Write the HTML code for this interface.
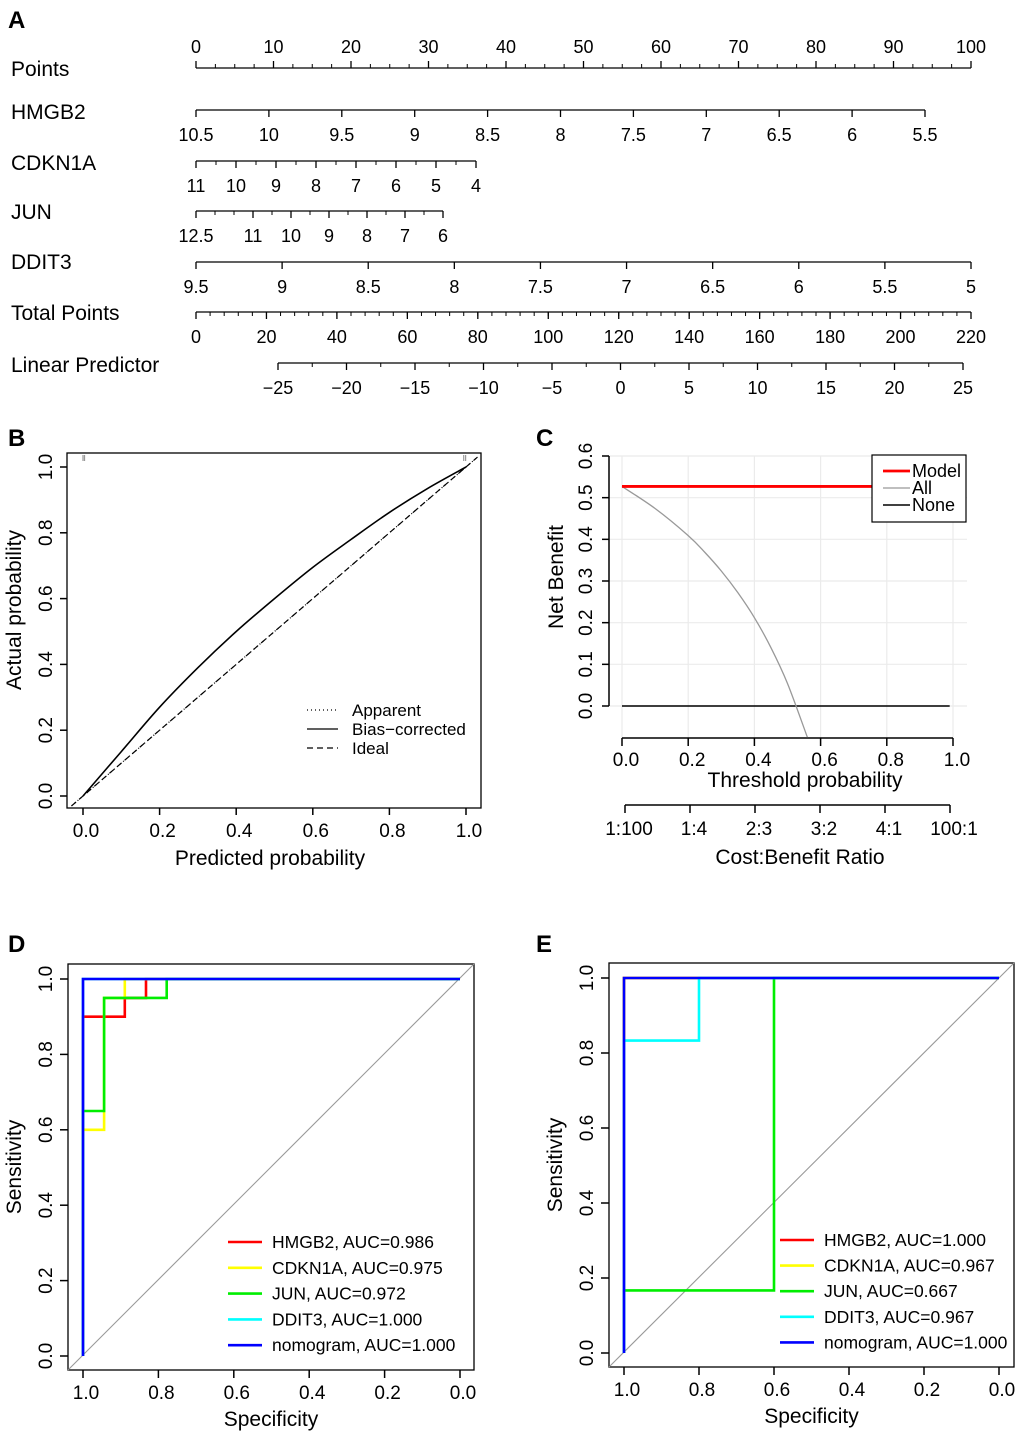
<!DOCTYPE html>
<html><head><meta charset="utf-8"><style>
html,body{margin:0;padding:0;background:#fff;}
svg{display:block;font-family:"Liberation Sans",Arial,sans-serif;}
</style></head><body>
<svg id="fig" width="1020" height="1435" viewBox="0 0 1020 1435"></svg>
<script>
// ---------- DATA ----------
const pointsTicks=[0,10,20,30,40,50,60,70,80,90,100];
const hmgb2Ticks=[10.5,10,9.5,9,8.5,8,7.5,7,6.5,6,5.5];
const cdkn1aTicks=[11,10,9,8,7,6,5,4];
const junTicks=[12.5,11,10,9,8,7,6];
const ddit3Ticks=[9.5,9,8.5,8,7.5,7,6.5,6,5.5,5];
const totalTicks=[0,20,40,60,80,100,120,140,160,180,200,220];
const lpTicks=[-25,-20,-15,-10,-5,0,5,10,15,20,25];
const calPred=[0.0,0.1,0.2,0.3,0.4,0.5,0.6,0.7,0.8,0.9,1.0];
const calBias=[0.0,0.135,0.27,0.39,0.5,0.6,0.695,0.78,0.862,0.935,1.0];
const idealX=[-0.03,1.03];
const dcaT=[0,0.1,0.2,0.25,0.3,0.35,0.4,0.45,0.5,0.56];
const dcaAll=[0.527,0.474,0.409,0.369,0.324,0.272,0.212,0.140,0.054,-0.075];
const modelNB=0.527;
const cbLabels=["1:100","1:4","2:3","3:2","4:1","100:1"];
const dNames=["HMGB2, AUC=0.986","CDKN1A, AUC=0.975","JUN, AUC=0.972","DDIT3, AUC=1.000","nomogram, AUC=1.000"];
const dSpec=[[1,1,0.889,0.889,0.833,0.833,0],[1,1,0.944,0.944,0.889,0.889,0],[1,1,0.944,0.944,0.778,0.778,0],[1,1,0],[1,1,0]];
const dSens=[[0,0.9,0.9,0.95,0.95,1,1],[0,0.6,0.6,0.95,0.95,1,1],[0,0.65,0.65,0.95,0.95,1,1],[0,1,1],[0,1,1]];
const eNames=["HMGB2, AUC=1.000","CDKN1A, AUC=0.967","JUN, AUC=0.667","DDIT3, AUC=0.967","nomogram, AUC=1.000"];
const eSpec=[[1,1,0],[1,1,0],[1,1,0.6,0.6,0],[1,1,0.8,0.8,0],[1,1,0]];
const eSens=[[0,1,1],[0,1,1],[0,0.167,0.167,1,1],[0,0.833,0.833,1,1],[0,1,1]];
const rocColors=["#ff0000","#ffff00","#00ee00","#00ffff","#0000ff"];
const rocTicks=[0,0.2,0.4,0.6,0.8,1.0];

// ---------- HELPERS ----------
const NS='http://www.w3.org/2000/svg';
const svg=document.getElementById('fig');
function mk(tag,attrs,name,parent){
  const el=document.createElementNS(NS,tag);
  for(const k in attrs) el.setAttribute(k,attrs[k]);
  
  
  (parent||svg).appendChild(el);
  return el;
}
function ln(x1,y1,x2,y2,name,stroke,w,dash){
  const a={x1:x1,y1:y1,x2:x2,y2:y2,stroke:stroke||'#000','stroke-width':w||1.5};
  if(dash) a['stroke-dasharray']=dash;
  return mk('line',a,name);
}
function tx(x,y,s,size,name,anchor,rot,weight){
  const a={x:x,y:y,'font-size':size,'text-anchor':anchor||'middle',fill:'#000'};
  if(rot) a.transform='rotate(-90 '+x+' '+y+')';
  if(weight) a['font-weight']=weight;
  const t=mk('text',a,name); t.textContent=s; return t;
}
function poly(pts,name,stroke,w,dash){
  const a={points:pts.map(p=>p[0].toFixed(1)+','+p[1].toFixed(1)).join(' '),fill:'none',stroke:stroke,'stroke-width':w};
  if(dash) a['stroke-dasharray']=dash;
  return mk('polyline',a,name);
}
function smooth(pts,name,stroke,w){
  let d='M'+pts[0][0]+','+pts[0][1];
  for(let i=0;i<pts.length-1;i++){
    const p0=pts[Math.max(0,i-1)],p1=pts[i],p2=pts[i+1],p3=pts[Math.min(pts.length-1,i+2)];
    const c1=[p1[0]+(p2[0]-p0[0])/6,p1[1]+(p2[1]-p0[1])/6];
    const c2=[p2[0]-(p3[0]-p1[0])/6,p2[1]-(p3[1]-p1[1])/6];
    d+=' C'+c1.join(',')+' '+c2.join(',')+' '+p2.join(',');
  }
  return mk('path',{d:d,fill:'none',stroke:stroke,'stroke-width':w},name);
}

// ---------- PANEL A ----------
tx(8,28,'A',24,'panel-a-label','start',false,'bold');
function nomoRow(label,ly,lineY,ticks,v0,x0,v1,x1,minorStep,up,key){
  const sc=v=>x0+(v-v0)/(v1-v0)*(x1-x0);
  tx(11,ly,label,21,key+'-row-label','start');
  ln(x0,lineY,x1,lineY,key+'-axis-line','#000',1.3);
  const dir=up?-1:1;
  if(minorStep){
    const lo=Math.min(v0,v1),hi=Math.max(v0,v1);
    for(let v=lo;v<=hi+1e-9;v+=minorStep) ln(sc(v),lineY,sc(v),lineY+dir*4,key+'-minor-tick','#000',1);
  }
  ticks.forEach(v=>{
    ln(sc(v),lineY,sc(v),lineY+dir*7,key+'-major-tick','#000',1.3);
    tx(sc(v),up?lineY-15:lineY+31,String(v).replace('-','\u2212'),18,key+'-tick-label');
  });
}
nomoRow('Points',76,68,pointsTicks,0,196,100,971,2.5,true,'points');
nomoRow('HMGB2',119,110,hmgb2Ticks,10.5,196,5.5,925,0,false,'hmgb2');
nomoRow('CDKN1A',170,161,cdkn1aTicks,11,196,4,476,0.5,false,'cdkn1a');
nomoRow('JUN',219,211,junTicks,12.5,196,6,443,0.5,false,'jun');
nomoRow('DDIT3',269,262,ddit3Ticks,9.5,196,5,971,0,false,'ddit3');
nomoRow('Total Points',320,312,totalTicks,0,196,220,971,4,false,'total-points');
nomoRow('Linear Predictor',372,363,lpTicks,-25,278,25,963,2.5,false,'linear-predictor');

// ---------- PANEL B ----------
tx(8,446,'B',24,'panel-b-label','start',false,'bold');
(function(){
  const X=v=>83+v*(466-83), Y=v=>796-v*(796-467);
  mk('rect',{x:67,y:453,width:414,height:355,fill:'none',stroke:'#000','stroke-width':1.3},'panel-b-frame');
  [0,0.2,0.4,0.6,0.8,1.0].forEach(v=>{
    ln(X(v),808,X(v),815,'b-x-tick'); tx(X(v)+3,837,v.toFixed(1),19,'b-x-tick-label');
    ln(67,Y(v),60,Y(v),'b-y-tick'); tx(52,Y(v),v.toFixed(1),19,'b-y-tick-label','middle',true);
  });
  tx(270,865,'Predicted probability',21,'b-x-axis-title');
  tx(21,610,'Actual probability',21,'b-y-axis-title','middle',true);
  poly(idealX.map(v=>[X(v),Y(v)]),'ideal-line','#000',1.2,'6,4');
  poly(idealX.map(v=>[X(v),Y(v)]),'apparent-line','#000',1.2,'1,3');
  smooth(calPred.map((v,i)=>[X(v),Y(calBias[i])]),'bias-corrected-curve','#000',1.6);
  [0,0.004].forEach(v=>ln(X(v),455,X(v),461,'rug-low','#999',1.2));
  [0.994,0.999].forEach(v=>ln(X(v),455,X(v),461,'rug-high','#999',1.2));
  const leg=[['Apparent','1,3',711],['Bias\u2212corrected','',730],['Ideal','6,4',749]];
  leg.forEach(l=>{ln(307,l[2]-1,338,l[2]-1,'b-legend-line','#000',1.2,l[1]||null);tx(352,l[2]+5,l[0],17,'b-legend-label','start');});
})();

// ---------- PANEL C ----------
tx(536,446,'C',24,'panel-c-label','start',false,'bold');
(function(){
  const X=v=>622+v*(953-622), Y=v=>706-v*(706-456)/0.6;
  [0,0.2,0.4,0.6,0.8,1.0].forEach(v=>ln(X(v),456,X(v),738,'c-grid-v','#ebebeb',1.2));
  [0,0.1,0.2,0.3,0.4,0.5,0.6].forEach(v=>ln(609,Y(v),967,Y(v),'c-grid-h','#ebebeb',1.2));
  ln(609,456,609,706,'c-y-axis');
  [0,0.1,0.2,0.3,0.4,0.5,0.6].forEach(v=>{ln(609,Y(v),602,Y(v),'c-y-tick');tx(592,Y(v),v.toFixed(1),19,'c-y-tick-label','middle',true);});
  tx(563,577,'Net Benefit',21,'c-y-axis-title','middle',true);
  ln(622,738,953,738,'c-x-axis');
  [0,0.2,0.4,0.6,0.8,1.0].forEach(v=>{ln(X(v),738,X(v),746,'c-x-tick');tx(X(v)+4,766,v.toFixed(1),19,'c-x-tick-label');});
  tx(805,787,'Threshold probability',21,'c-x-axis-title');
  ln(625,805,950,805,'cost-benefit-axis');
  cbLabels.forEach((s,i)=>{const x=625+i*(950-625)/5;ln(x,805,x,813,'cb-tick');tx(x+4,835,s,19,'cb-tick-label');});
  tx(800,864,'Cost:Benefit Ratio',21,'cb-axis-title');
  ln(X(0),Y(0),X(0.99),Y(0),'none-line','#000',1.5);
  smooth(dcaT.map((t,i)=>[X(t),Y(dcaAll[i])]),'all-curve','#999',1.3);
  ln(X(0),Y(modelNB),X(0.76),Y(modelNB),'model-line','#ff0000',2.8);
  mk('rect',{x:872,y:455,width:94,height:67,fill:'#fff',stroke:'#000','stroke-width':1.2},'c-legend-box');
  [['Model','#ff0000',2.8,471],['All','#999',1.3,488],['None','#000',1.5,505]].forEach(l=>{
    ln(883,l[3],910,l[3],'c-legend-line',l[1],l[2]);tx(912,l[3]+6,l[0],18,'c-legend-label','start');});
})();

// ---------- ROC PANELS ----------
function roc(o){
  const X=v=>o.x0+(1-v)*(o.x1-o.x0), Y=v=>o.y0-v*(o.y0-o.y1);
  mk('rect',{x:o.bx,y:o.by,width:o.bw,height:o.bh,fill:'none',stroke:'#000','stroke-width':1.3},o.key+'-frame');
  ln(o.bx,o.by+o.bh,o.bx+o.bw,o.by,o.key+'-diagonal','#999',1.1);
  rocTicks.forEach(v=>{
    ln(X(v),o.by+o.bh,X(v),o.by+o.bh+8,o.key+'-x-tick');tx(X(v)+3,o.by+o.bh+29,v.toFixed(1),19,o.key+'-x-tick-label');
    ln(o.bx,Y(v),o.bx-8,Y(v),o.key+'-y-tick');tx(o.bx-16,Y(v),v.toFixed(1),19,o.key+'-y-tick-label','middle',true);
  });
  tx((o.bx+o.bx+o.bw)/2,o.by+o.bh+56,'Specificity',21,o.key+'-x-axis-title');
  tx(o.bx-47,(o.by*2+o.bh)/2,'Sensitivity',21,o.key+'-y-axis-title','middle',true);
  o.spec.forEach((s,i)=>poly(s.map((v,j)=>[X(v),Y(o.sens[i][j])]),o.key+'-roc-'+i,rocColors[i],2.6));
  o.names.forEach((n,i)=>{const y=o.ly+i*o.ld;ln(o.lx,y,o.lx+34,y,o.key+'-legend-line',rocColors[i],2.6);tx(o.lx+44,y+6,n,17.5,o.key+'-legend-label','start');});
}
tx(8,952,'D',24,'panel-d-label','start',false,'bold');
roc({key:'d',bx:68,by:964,bw:406,bh:406,x0:83,x1:460,y0:1356,y1:979,spec:dSpec,sens:dSens,names:dNames,lx:228,ly:1242,ld:25.8});
tx(536,952,'E',24,'panel-e-label','start',false,'bold');
roc({key:'e',bx:609,by:963,bw:405,bh:404,x0:624,x1:999,y0:1353,y1:978,spec:eSpec,sens:eSens,names:eNames,lx:780,ly:1240,ld:25.6});
</script>
</body></html>
